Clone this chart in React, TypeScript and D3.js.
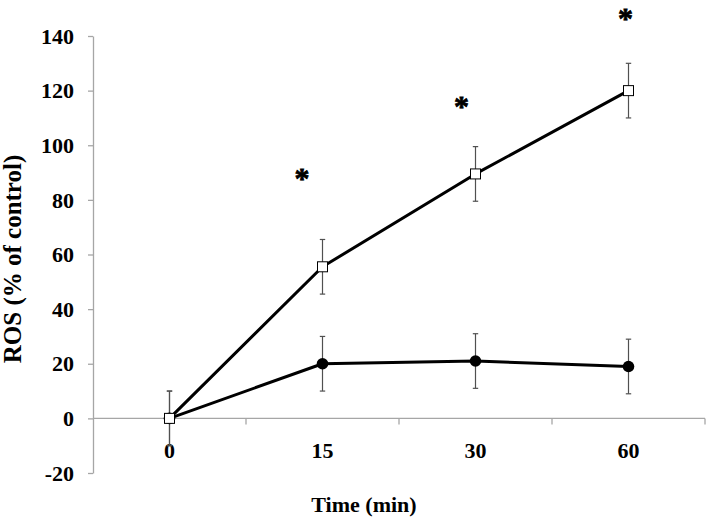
import React, { useEffect, useRef } from 'react';
import * as d3 from 'd3';

const categories = ['0', '15', '30', '60'];
const treatedMean = [0, 55.5, 89.5, 120];
const treatedErr = [10, 10, 10, 10];
const controlMean = [0, 20, 21, 19];
const controlErr = [10, 10, 10, 10];
const yTicks = [-20, 0, 20, 40, 60, 80, 100, 120, 140];
const starCats = ['15', '30', '60'];
const starValues = [89.5, 115.8, 149.6];
const starShift = [-20.5, -14, -3];

const W = 708;
const H = 522;
const FONT = '"Liberation Serif", "Times New Roman", serif';

function ROSChart() {
  const ref = useRef<SVGSVGElement>(null);

  useEffect(() => {
    const svg = d3.select(ref.current);
    svg.selectAll('*').remove();

    const x = d3.scaleBand().domain(categories).range([93, 705]);
    const y = d3.scaleLinear().domain([-20, 140]).range([473, 36]);
    const cx = (c) => x(c) + x.bandwidth() / 2;
    const axisColor = '#a6a6a6';

    // y axis
    const yAxis = d3.axisLeft(y).tickValues(yTicks).tickSize(5).tickSizeOuter(0).tickFormat(() => '');
    const gy = svg.append('g').attr('transform', 'translate(93,0)').call(yAxis);
    gy.selectAll('path, line').attr('stroke', axisColor).attr('stroke-width', 1.3);

    svg
      .append('g')
      .selectAll('text')
      .data(yTicks)
      .join('text')
      .attr('x', 74)
      .attr('y', (d) => y(d))
      .attr('dy', '0.35em')
      .attr('text-anchor', 'end')
      .attr('font-family', FONT)
      .attr('font-weight', 'bold')
      .attr('font-size', 22)
      .text((d) => d);

    // x axis sits on zero
    const y0 = y(0);
    svg
      .append('line')
      .attr('x1', 93)
      .attr('x2', 705)
      .attr('y1', y0)
      .attr('y2', y0)
      .attr('stroke', axisColor)
      .attr('stroke-width', 1.3);
    const bounds = categories.map((c) => x(c)).concat([x.range()[1]]).slice(1);
    svg
      .append('g')
      .selectAll('line')
      .data(bounds)
      .join('line')
      .attr('x1', (d) => d)
      .attr('x2', (d) => d)
      .attr('y1', y0)
      .attr('y2', y0 + 6)
      .attr('stroke', axisColor)
      .attr('stroke-width', 1.3);

    svg
      .append('g')
      .selectAll('text')
      .data(categories)
      .join('text')
      .attr('x', (d) => cx(d))
      .attr('y', 458)
      .attr('text-anchor', 'middle')
      .attr('font-family', FONT)
      .attr('font-weight', 'bold')
      .attr('font-size', 22)
      .text((d) => d);

    // axis titles
    svg
      .append('text')
      .attr('x', 364)
      .attr('y', 512)
      .attr('text-anchor', 'middle')
      .attr('font-family', FONT)
      .attr('font-weight', 'bold')
      .attr('font-size', 22)
      .text('Time (min)');

    svg
      .append('text')
      .attr('transform', `translate(21,259) rotate(-90)`)
      .attr('text-anchor', 'middle')
      .attr('font-family', FONT)
      .attr('font-weight', 'bold')
      .attr('font-size', 25)
      .text('ROS (% of control)');

    const line = d3
      .line<number>()
      .x((d, i) => cx(categories[i]))
      .y((d) => y(d));

    const series = [
      { mean: controlMean, err: controlErr, marker: 'circle' },
      { mean: treatedMean, err: treatedErr, marker: 'square' },
    ];

    // error bars
    series.forEach((s) => {
      const g = svg.append('g').attr('stroke', '#505050').attr('stroke-width', 1.2);
      s.mean.forEach((m, i) => {
        const px = cx(categories[i]);
        const top = y(m + s.err[i]);
        const bot = y(m - s.err[i]);
        g.append('line').attr('x1', px).attr('x2', px).attr('y1', top).attr('y2', bot);
        g.append('line').attr('x1', px - 2.7).attr('x2', px + 2.7).attr('y1', top).attr('y2', top);
        g.append('line').attr('x1', px - 2.7).attr('x2', px + 2.7).attr('y1', bot).attr('y2', bot);
      });
    });

    // lines
    series.forEach((s) => {
      svg
        .append('path')
        .attr('d', line(s.mean))
        .attr('fill', 'none')
        .attr('stroke', '#000')
        .attr('stroke-width', 3)
        .attr('stroke-linejoin', 'round');
    });

    // markers
    series.forEach((s) => {
      const g = svg.append('g');
      s.mean.forEach((m, i) => {
        const px = cx(categories[i]);
        const py = y(m);
        if (s.marker === 'circle') {
          g.append('circle').attr('cx', px).attr('cy', py).attr('r', 5.8).attr('fill', '#000');
        } else {
          g.append('rect')
            .attr('x', px - 5)
            .attr('y', py - 5)
            .attr('width', 10)
            .attr('height', 10)
            .attr('fill', '#fff')
            .attr('stroke', '#000')
            .attr('stroke-width', 1);
        }
      });
    });

    // significance marks (kept inside the top edge)
    const starSize = 30;
    svg
      .append('g')
      .selectAll('text')
      .data(starCats)
      .join('text')
      .attr('x', (d, i) => cx(d) + starShift[i])
      .attr('y', (d, i) => Math.max(y(starValues[i]) + starSize * 0.48, starSize * 0.92))
      .attr('text-anchor', 'middle')
      .attr('font-family', FONT)
      .attr('font-weight', 'bold')
      .attr('font-size', starSize)
      .attr('stroke', '#000')
      .attr('stroke-width', 0.8)
      .text('*');
  }, []);

  return <svg ref={ref} width={W} height={H} style={{ position: 'absolute', left: 0, top: 0, background: '#fff' }} />;
}

export default function App() {
  return <ROSChart />;
}
